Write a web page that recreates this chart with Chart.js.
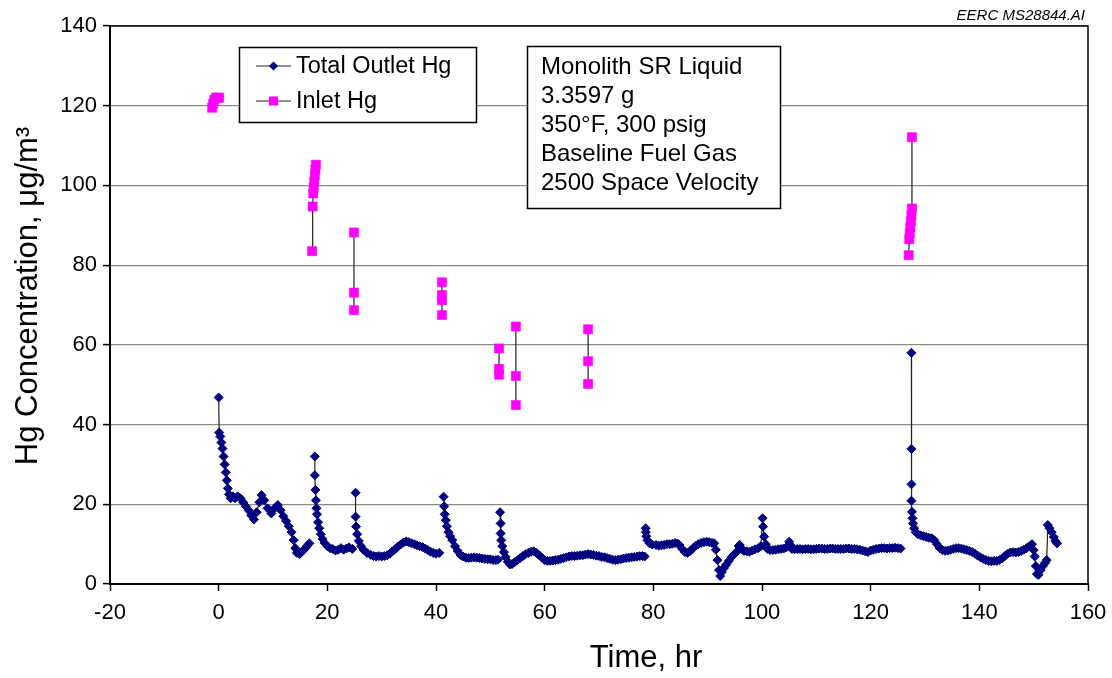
<!DOCTYPE html>
<html>
<head>
<meta charset="utf-8">
<script src="https://cdn.jsdelivr.net/npm/chart.js@4/dist/chart.umd.min.js"></script>
<style>
  html, body { margin: 0; padding: 0; background: #fff; }
  #wrap { width: 1112px; height: 678px; position: relative; }
</style>
</head>
<body>
<div id="wrap"><canvas id="c" width="1112" height="678"></canvas></div>
<script>
// ---- Data ----
const xTicks = [-20, 0, 20, 40, 60, 80, 100, 120, 140, 160];
const yTicks = [0, 20, 40, 60, 80, 100, 120, 140];

const seriesNames = ['Total Outlet Hg', 'Inlet Hg'];

// [time (hr), Hg (µg/m3)]; a null value marks a gap between sampling runs
const outletHg = [
  [0,46.8],[0.1,38],[0.3,37],[0.5,35.5],[0.7,34],[0.9,32],[1.1,30],[1.3,28],[1.5,26],[1.7,24],[1.9,22.5],[2.2,21.5],[2.6,22],[3.0,21.5],[3.5,22],[4.0,21.5],[4.5,20.5],[5.0,19.5],[5.5,18.5],[6.0,17.2],[6.5,16.2],[7.0,18],[7.5,20.5],[7.9,22.3],[8.4,21],[9.0,19],[9.7,17.7],[10.3,19],[10.9,19.8],[11.4,18.5],[11.9,17],[12.4,15.8],[12.9,14.5],[13.4,13],[13.8,11],[14.1,9],[14.4,7.8],[14.9,7.5],[15.4,8.2],[15.9,8.9],[16.3,9.6],[16.7,10.2],[17.2,null],
  [17.7,32],[17.7,27.3],[17.8,23.6],[17.9,21],[18.0,19],[18.1,17.5],[18.3,15.5],[18.5,14],[18.8,12.5],[19.1,11.3],[19.5,10.3],[20.0,9.5],[20.5,9],[21.0,8.8],[21.5,8.4],[22.0,8.6],[22.5,9.0],[23.0,8.6],[23.5,8.9],[24.0,9.2],[24.6,8.8],[24.9,null],
  [25.2,22.9],[25.2,16.9],[25.3,14.4],[25.5,12.5],[25.8,10.8],[26.2,9.5],[26.7,8.5],[27.3,7.8],[28.0,7.3],[28.5,7.0],[29.0,6.9],[29.5,7.0],[30.0,6.9],[30.5,7.0],[31.0,7.2],[31.5,7.6],[32.0,8.2],[32.5,8.8],[33.0,9.4],[33.5,9.9],[34.0,10.4],[34.5,10.7],[35.0,10.5],[35.5,10.2],[36.0,10.0],[36.5,9.7],[37.0,9.5],[37.5,9.3],[38.0,8.9],[38.5,8.5],[39.0,8.1],[39.5,7.8],[40.0,7.6],[40.6,7.8],[41.0,null],
  [41.4,21.9],[41.5,19.5],[41.6,17.5],[41.8,16],[42.0,14.5],[42.3,13],[42.6,12],[43.0,11],[43.5,9.5],[44.0,8.3],[44.5,7.3],[45.0,6.9],[45.5,6.6],[46.0,6.5],[46.5,6.6],[47.0,6.7],[47.5,6.6],[48.0,6.5],[48.5,6.4],[49.0,6.3],[49.5,6.2],[50.0,6.2],[50.5,6.0],[51.0,6.0],[51.4,6.1],[51.6,null],
  [51.8,18.0],[51.9,15.2],[51.9,12.7],[52.0,11],[52.2,9.5],[52.5,8],[52.8,6.8],[53.2,5.6],[53.6,4.9],[54.0,5.0],[54.5,5.5],[55.0,6.0],[55.5,6.5],[56.0,7.0],[56.5,7.5],[57.0,7.8],[57.5,8.1],[58.0,8.2],[58.5,7.8],[59.0,7.2],[59.5,6.6],[60.0,6.0],[60.5,5.8],[61.0,5.8],[61.5,5.9],[62.0,6.0],[62.5,6.1],[63.0,6.3],[63.5,6.5],[64.0,6.7],[64.5,6.9],[65.0,7.0],[65.5,7.0],[66.0,7.1],[66.5,7.2],[67.0,7.2],[67.5,7.4],[68.0,7.5],[68.5,7.4],[69.0,7.3],[69.5,7.1],[70.0,7.0],[70.5,6.8],[71.0,6.7],[71.5,6.5],[72.0,6.3],[72.5,6.1],[73.0,6.0],[73.5,6.1],[74.0,6.2],[74.5,6.4],[75.0,6.5],[75.5,6.6],[76.0,6.7],[76.5,6.8],[77.0,6.9],[77.5,7.0],[78.0,7.0],[78.4,6.9],[78.5,null],
  [78.6,14.0],[78.6,13.0],[78.7,12.0],[78.9,11.0],[79.3,10.2],[79.8,9.9],[80.5,9.8],[81.0,9.6],[81.5,9.7],[82.0,9.8],[82.5,10.0],[83.0,10.0],[83.5,10.1],[84.0,10.3],[84.5,10.1],[84.8,9.8],[85.3,8.8],[85.8,8.0],[86.3,7.8],[86.8,8.3],[87.3,9.0],[87.8,9.6],[88.3,10.0],[88.8,10.3],[89.3,10.5],[89.8,10.6],[90.3,10.5],[90.8,10.3],[91.2,10.2],[91.5,8.6],[91.8,6.0],[92.1,3.5],[92.3,2.0],[92.6,3.0],[93.0,4.0],[93.4,4.8],[93.9,5.8],[94.4,6.8],[94.9,7.5],[95.3,8.0],[95.7,9.5],[95.9,9.8],[96.2,8.8],[96.7,8.3],[97.2,8.2],[97.7,8.1],[98.2,8.4],[98.7,8.7],[99.3,9.0],[99.8,9.5],[100.1,16.5],[100.2,14.4],[100.4,11.9],[100.7,10.0],[101.0,8.8],[101.5,8.5],[102.0,8.5],[102.5,8.6],[103.0,8.7],[103.5,8.8],[104.0,8.9],[104.5,9.2],[105.0,10.6],[105.2,9.8],[105.5,8.8],[106.0,8.7],[106.5,8.8],[107.0,8.8],[107.5,8.7],[108.0,8.8],[108.5,8.8],[109.0,8.7],[109.5,8.7],[110.0,8.8],[110.5,8.9],[111.0,8.9],[111.5,8.8],[112.0,8.8],[112.5,8.9],[113.0,8.9],[113.5,8.8],[114.0,8.8],[114.5,8.8],[115.0,8.8],[115.5,8.9],[116.0,8.9],[116.5,8.8],[117.0,8.8],[117.5,8.7],[118.0,8.6],[118.5,8.4],[119.0,8.2],[119.5,8.0],[120.0,8.4],[120.5,8.6],[121.0,8.8],[121.5,8.9],[122.0,9.0],[122.5,9.0],[123.0,8.9],[123.5,9.0],[124.0,9.0],[124.5,9.1],[125.0,9.0],[125.5,8.9],[126.5,null],
  [127.5,58],[127.5,33.9],[127.5,25],[127.5,20.9],[127.6,18.1],[127.7,16.5],[127.8,15.2],[128.0,14],[128.3,13],[128.7,12.5],[129.2,12.2],[129.7,12.0],[130.2,11.8],[130.7,11.6],[131.2,11.5],[131.7,11.0],[132.2,10.0],[132.7,9.0],[133.2,8.5],[133.7,8.3],[134.2,8.4],[134.7,8.6],[135.2,8.8],[135.7,9.0],[136.2,9.0],[136.7,8.9],[137.2,8.7],[137.7,8.5],[138.2,8.3],[138.7,8.0],[139.2,7.6],[139.7,7.1],[140.2,6.7],[140.7,6.3],[141.2,6.0],[141.7,5.8],[142.2,5.7],[142.7,5.8],[143.2,5.8],[143.7,6.0],[144.2,6.4],[144.7,7.0],[145.2,7.6],[145.7,7.9],[146.2,8.0],[146.7,7.9],[147.2,8.0],[147.7,8.3],[148.2,8.6],[148.7,9.0],[149.2,9.5],[149.7,10.0],[150.0,8.5],[150.2,6.9],[150.4,4.5],[150.6,2.5],[150.9,2.3],[151.3,3.5],[151.7,4.5],[152.1,5.3],[152.4,6.0],[152.6,14.8],[152.9,14.0],[153.3,13.0],[153.7,11.8],[154.0,10.8],[154.3,10.2]
];

const inletHg = [
  [-1.2,119.5],[-1.0,120.5],[-0.8,121.5],[-0.5,122],[-0.2,122],[0.1,122],[8,null],
  [17.2,83.5],[17.3,94.7],[17.4,98],[17.5,99.5],[17.6,101],[17.7,102.5],[17.8,104],[17.9,105.2],[21,null],
  [24.9,88.2],[24.9,73.1],[24.9,68.7],[33,null],
  [41.1,75.7],[41.1,72.5],[41.1,71.2],[41.1,67.5],[46,null],
  [51.6,59.1],[51.6,54],[51.6,52.5],[53,null],
  [54.7,64.6],[54.7,52.2],[54.7,44.9],[60,null],
  [68,63.9],[68,55.9],[68,50.2],[100,null],
  [127.0,82.5],[127.1,86.5],[127.2,88],[127.3,89.5],[127.4,91],[127.5,92.5],[127.6,94.2],[127.6,112.1]
];

const infoLines = ['Monolith SR Liquid', '3.3597 g', '350\u00B0F, 300 psig', 'Baseline Fuel Gas', '2500 Space Velocity'];
const figureId = 'EERC MS28844.AI';
const xTitle = 'Time, hr';
const yTitle = 'Hg Concentration, \u03BCg/m\u00B3';

// ---- Styles ----
const FONT = "'Liberation Sans', Arial, Helvetica, sans-serif";
const NAVY = '#000080';
const MAGENTA = '#FF00FF';
const LINE = '#222222';

function drawDiamond(ctx, x, y, r, color) {
  ctx.beginPath();
  ctx.moveTo(x, y - r); ctx.lineTo(x + r, y); ctx.lineTo(x, y + r); ctx.lineTo(x - r, y); ctx.closePath();
  ctx.fillStyle = color; ctx.fill();
}
function drawSquare(ctx, x, y, s, color) {
  ctx.fillStyle = color; ctx.fillRect(x - s / 2, y - s / 2, s, s);
}

const overlay = {
  id: 'overlay',
  afterDraw(chart) {
    const { ctx, chartArea: a } = chart;
    ctx.save();
    // frame top/right
    ctx.strokeStyle = '#000'; ctx.lineWidth = 1.5;
    ctx.beginPath();
    ctx.moveTo(a.left, a.top); ctx.lineTo(a.right, a.top); ctx.lineTo(a.right, a.bottom);
    ctx.stroke();

    // legend box
    ctx.fillStyle = '#fff';
    ctx.fillRect(239.5, 47.5, 237, 75);
    ctx.strokeStyle = '#000'; ctx.lineWidth = 1.5;
    ctx.strokeRect(239.5, 47.5, 237, 75);
    const rows = [66, 101];
    ctx.font = '23.5px ' + FONT;
    ctx.textBaseline = 'middle'; ctx.textAlign = 'left';
    rows.forEach((ry, i) => {
      ctx.strokeStyle = LINE; ctx.lineWidth = 1.2;
      ctx.beginPath(); ctx.moveTo(256, ry); ctx.lineTo(291, ry); ctx.stroke();
      if (i === 0) drawDiamond(ctx, 273.5, ry, 4.5, NAVY);
      else drawSquare(ctx, 273.5, ry, 9, MAGENTA);
      ctx.fillStyle = '#000';
      ctx.fillText(seriesNames[i], 296, ry + 1);
    });

    // info box
    ctx.fillStyle = '#fff';
    ctx.fillRect(527.5, 46.5, 253, 162);
    ctx.strokeStyle = '#000'; ctx.lineWidth = 1.5;
    ctx.strokeRect(527.5, 46.5, 253, 162);
    ctx.font = '24px ' + FONT;
    ctx.fillStyle = '#000';
    infoLines.forEach((t, i) => ctx.fillText(t, 541, 67 + i * 29.2));

    // figure id
    ctx.font = 'italic 15px ' + FONT;
    ctx.textAlign = 'right';
    ctx.fillText(figureId, 1085, 16);

    // axis titles
    ctx.font = '31px ' + FONT;
    ctx.textAlign = 'center';
    ctx.fillText(xTitle, 646, 658);
    ctx.translate(28, 296);
    ctx.rotate(-Math.PI / 2);
    ctx.fillText(yTitle, 0, 0);
    ctx.restore();
  }
};

const ctx = document.getElementById('c').getContext('2d');
new Chart(ctx, {
  type: 'scatter',
  data: {
    datasets: [
      {
        label: seriesNames[0],
        data: outletHg.map(([x, y]) => ({ x, y })),
        showLine: true,
        borderColor: LINE,
        borderWidth: 1.2,
        pointStyle: 'rectRot',
        pointRadius: 4.5,
        pointBackgroundColor: NAVY,
        pointBorderColor: NAVY,
        pointBorderWidth: 1,
        spanGaps: false
      },
      {
        label: seriesNames[1],
        data: inletHg.map(([x, y]) => ({ x, y })),
        showLine: true,
        borderColor: LINE,
        borderWidth: 1.2,
        pointStyle: 'rect',
        pointRadius: 6.5,
        pointBackgroundColor: MAGENTA,
        pointBorderColor: MAGENTA,
        pointBorderWidth: 0.5,
        spanGaps: false
      }
    ]
  },
  options: {
    responsive: false,
    animation: false,
    events: [],
    layout: { padding: { top: 26, right: 24, left: 0, bottom: 0 } },
    plugins: { legend: { display: false }, tooltip: { enabled: false } },
    scales: {
      x: {
        type: 'linear',
        min: xTicks[0], max: xTicks[xTicks.length - 1],
        afterBuildTicks: s => { s.ticks = xTicks.map(v => ({ value: v })); },
        afterFit: s => { s.height = 94; s.paddingRight = 18; s.paddingLeft = 18; },
        grid: { drawOnChartArea: false, drawTicks: true, tickLength: 7, tickColor: '#000', tickWidth: 1.5 },
        border: { display: true, color: '#000', width: 2 },
        ticks: { color: '#000', font: { family: FONT, size: 22 }, padding: 9, maxRotation: 0 },
        title: { display: false }
      },
      y: {
        type: 'linear',
        min: yTicks[0], max: yTicks[yTicks.length - 1],
        afterBuildTicks: s => { s.ticks = yTicks.map(v => ({ value: v })); },
        afterFit: s => { s.width = 110; },
        grid: { drawOnChartArea: true, color: '#8a8a8a', lineWidth: 1.2, drawTicks: true, tickLength: 7, tickColor: '#000', tickWidth: 1.5 },
        border: { display: true, color: '#000', width: 2 },
        ticks: { color: '#000', font: { family: FONT, size: 22 }, padding: 6 },
        title: { display: false }
      }
    }
  },
  plugins: [overlay]
});
</script>
</body>
</html>
